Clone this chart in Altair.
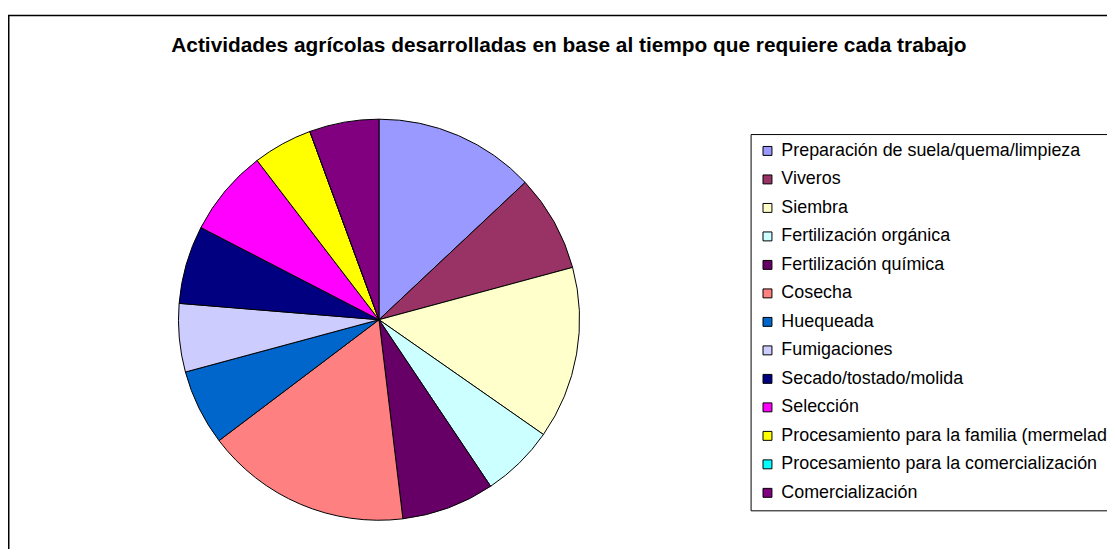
import altair as alt
import pandas as pd

categorias = [
    "Preparación de suela/quema/limpieza",
    "Viveros",
    "Siembra",
    "Fertilización orgánica",
    "Fertilización química",
    "Cosecha",
    "Huequeada",
    "Fumigaciones",
    "Secado/tostado/molida",
    "Selección",
    "Procesamiento para la familia (mermelada)",
    "Procesamiento para la comercialización",
    "Comercialización",
]
valores = [13.0, 7.8, 13.9, 5.9, 7.5, 16.6, 6.1, 5.5, 6.3, 7.0, 4.8, 0.0, 5.6]
colores = [
    "#9999FF", "#993366", "#FFFFCC", "#CCFFFF", "#660066", "#FF8080",
    "#0066CC", "#CCCCFF", "#000080", "#FF00FF", "#FFFF00", "#00FFFF", "#800080",
]
titulo = "Actividades agrícolas desarrolladas en base al tiempo que requiere cada trabajo"

df = pd.DataFrame({"actividad": categorias, "valor": valores, "orden": list(range(len(categorias)))})
one = pd.DataFrame({"a": [0]})

W, H = 1107, 543

border_top = alt.Chart(one).mark_rule(color="black", strokeWidth=1.5).encode(
    x=alt.value(0), x2=alt.value(W), y=alt.value(5.5)
)
border_left = alt.Chart(one).mark_rule(color="black", strokeWidth=1.5).encode(
    x=alt.value(0.75), y=alt.value(5), y2=alt.value(H)
)
title = alt.Chart(one).mark_text(
    font="Liberation Sans", fontSize=21, fontWeight="bold", color="black",
    align="center", baseline="alphabetic"
).encode(x=alt.value(565), y=alt.value(42), text=alt.value(titulo))

pie = alt.Chart(df).mark_arc(radius=202, stroke="black", strokeWidth=1).encode(
    theta=alt.Theta("valor:Q", stack=True),
    order=alt.Order("orden:Q"),
    color=alt.Color(
        "actividad:N",
        scale=alt.Scale(domain=categorias, range=colores),
        sort=categorias,
        legend=alt.Legend(
            orient="none", legendX=748, legendY=125, title=None,
            symbolType="square", symbolSize=81, symbolStrokeColor="black",
            symbolStrokeWidth=1, symbolOpacity=1,
            labelFont="Liberation Sans", labelFontSize=18, labelColor="black",
            labelLimit=600, labelOffset=5, rowPadding=10.7, padding=8,
            strokeColor="black", fillColor="white",
        ),
    ),
    x=alt.value(373.7),
    y=alt.value(312),
)

chart = alt.layer(border_top, border_left, title, pie).properties(
    width=W, height=H, padding=0,
    autosize=alt.AutoSizeParams(type="none"),
).configure_view(stroke=None)

chart.save("out.html", embed_options={"renderer": "svg", "actions": False})
